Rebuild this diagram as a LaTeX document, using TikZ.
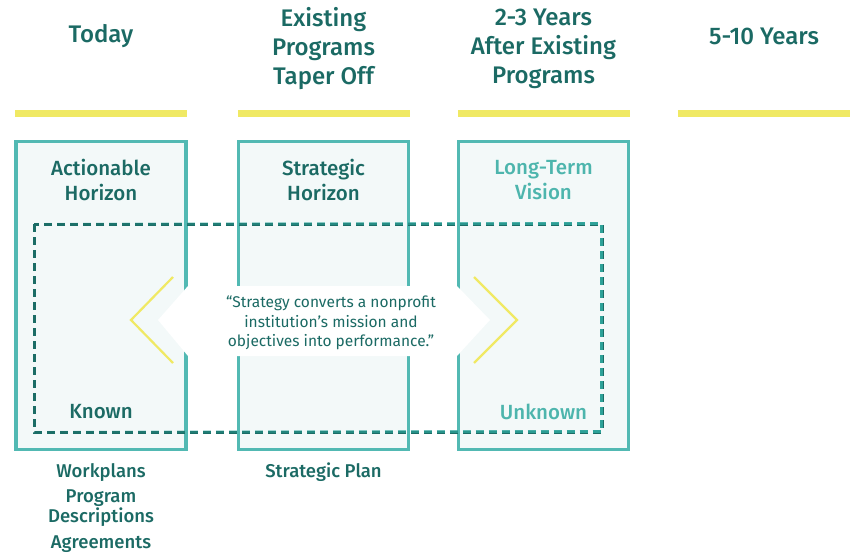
\documentclass[tikz,border=0pt]{standalone}
\usepackage{fontspec}
\setmainfont{Fira Sans}[BoldFont={Fira Sans Medium}]
\usetikzlibrary{fadings}
\definecolor{inkteal}{HTML}{1B6A64}
\definecolor{lightteal}{HTML}{4DB5AD}
\definecolor{boxline}{HTML}{52B9B3}
\definecolor{boxfill}{HTML}{F3F9F9}
\definecolor{dashdark}{HTML}{1B6D66}
\definecolor{dashlight}{HTML}{2EA39A}
\definecolor{baryellow}{HTML}{F0E964}
\tikzset{
  header/.style={text=inkteal, font=\bfseries\fontsize{24}{29}\selectfont, align=center},
  yearbar/.style={draw=none, fill=baryellow, minimum width=172, minimum height=7, inner sep=0},
  horizon/.style={draw=boxline, line width=3.5pt, fill=boxfill, minimum width=170, minimum height=308, inner sep=0},
  boxlabel/.style={text=inkteal, font=\bfseries\fontsize{20.5}{25}\selectfont, align=center},
  planlabel/.style={text=inkteal, font=\bfseries\fontsize{18.5}{19}\selectfont, align=center},
  quotetext/.style={text=inkteal, font=\fontsize{15.5}{19.5}\selectfont, align=center},
  chevron/.style={draw=baryellow, line width=2.2pt},
  scopeline/.style={line width=3pt, dash pattern=on 8pt off 5pt}
}
\begin{document}
\begin{tikzpicture}[x=1pt,y=-1pt]
\useasboundingbox (0,0) rectangle (853,554);
% column headings
\node[header] (h1) at (101,36) {Today};
\node[header] (h2) at (323.5,49) {Existing\\Programs\\Taper Off};
\node[header] (h3) at (543.5,49) {2-3 Years\\After Existing\\Programs};
\node[header] (h4) at (764,36) {5-10 Years};
% timeline bars
\node[yearbar] (b1) at (101,113) {};
\node[yearbar] (b2) at (323.5,113) {};
\node[yearbar] (b3) at (543.5,113) {};
\node[yearbar] (b4) at (764,113) {};
% horizon boxes
\node[horizon] (x1) at (101,295.5) {};
\node[horizon] (x2) at (323.5,295.5) {};
\node[horizon] (x3) at (543.5,295.5) {};
% dashed span from known to unknown, darker on the known side
\draw[scopeline, draw=dashdark] (34,224) rectangle (602,432);
\draw[scopeline, draw=dashlight, path fading=west] (34,224) rectangle (602,432);
% white arrow band carrying the quote
\path[fill=white] (158,320) -- (188,286) -- (457,286) -- (490,320) -- (457,356) -- (188,356) -- cycle;
\draw[chevron] (173,277) -- (131,320) -- (173,363);
\draw[chevron] (474,277) -- (517,320) -- (474,363);
\node[quotetext] (q) at (331,323) {“Strategy converts a nonprofit\\institution’s mission and\\objectives into performance.”};
% box labels
\node[boxlabel] (l1) at (101,180) {Actionable\\Horizon};
\node[boxlabel] (l2) at (323.5,180) {Strategic\\Horizon};
\node[boxlabel, text=lightteal] (l3) at (543.5,180) {Long-Term\\Vision};
\node[boxlabel] (k1) at (101,411.5) {Known};
\node[boxlabel, text=lightteal] (k3) at (543.5,411.5) {Unknown};
% plans under each box
\node[planlabel] (p1) at (101,472.5) {Workplans};
\node[planlabel, font=\bfseries\fontsize{18.5}{18}\selectfont] (p2) at (101,508) {Program\\Descriptions};
\node[planlabel] (p3) at (101,544) {Agreements};
\node[planlabel] (p4) at (323.5,472.5) {Strategic Plan};
\end{tikzpicture}
\end{document}
